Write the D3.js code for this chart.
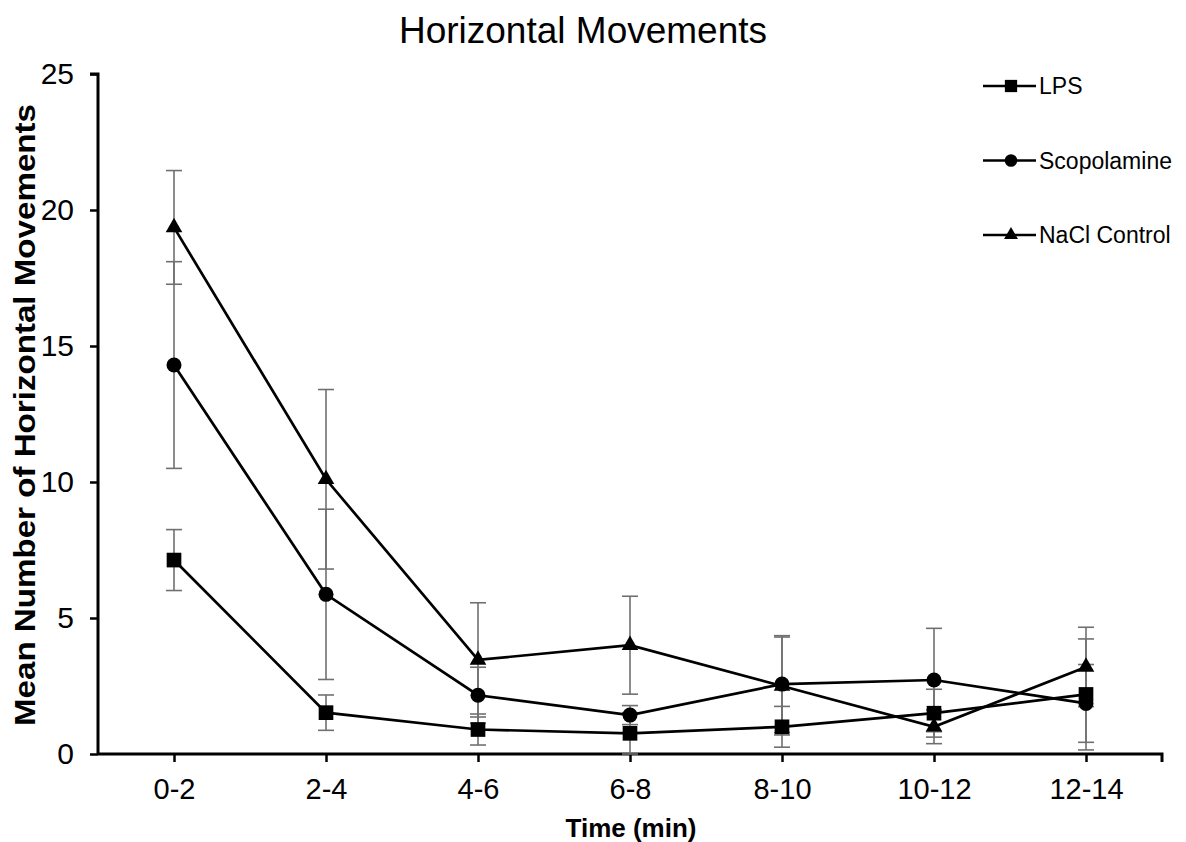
<!DOCTYPE html>
<html><head><meta charset="utf-8">
<script src="https://cdn.jsdelivr.net/npm/d3@7"></script>
<style>body{margin:0;background:#fff}svg{display:block}text{font-family:"Liberation Sans",Arial,sans-serif}</style>
</head><body><svg id="c" width="1186" height="842"></svg>
<script>
const categories = ["0-2","2-4","4-6","6-8","8-10","10-12","12-14"];
const lpsMean = [7.13,1.52,0.9,0.76,1.0,1.5,2.19];
const lpsErr  = [1.12,0.65,0.57,0.76,0.75,0.88,2.04];
const scoMean = [14.3,5.87,2.16,1.43,2.57,2.72,1.86];
const scoErr  = [3.8,3.13,1.03,0.35,1.78,1.9,1.43];
const naclMean = [19.36,10.1,3.46,4.0,2.5,1.0,3.2];
const naclErr  = [2.09,3.3,2.1,1.8,1.8,0.62,1.46];
const yTicks = [0,5,10,15,20,25];
const seriesNames = ["LPS","Scopolamine","NaCl Control"];

const svg = d3.select("#c");
const L=98,R=1162,T=74,B=754;
const x = d3.scalePoint().domain(categories).range([L,R]).padding(0.5);
const y = d3.scaleLinear().domain([0,25]).range([B,T]);

svg.append("text").attr("x",583).attr("y",43).attr("text-anchor","middle")
  .style("font-size","37px").text("Horizontal Movements");

// y axis
const ya = svg.append("g").attr("transform",`translate(${L},0)`)
  .call(d3.axisLeft(y).tickValues(yTicks).tickSize(8).tickPadding(16));
ya.select(".domain").attr("stroke","#000").attr("stroke-width",3).attr("d",`M-8,${T}H0V${B}`);
ya.selectAll(".tick line").attr("stroke-width",2.5);
ya.selectAll(".tick text").style("font-size","30px").attr("fill","#000");

// x axis
const xa = svg.append("g").attr("transform",`translate(0,${B})`)
  .call(d3.axisBottom(x).tickSize(8).tickPadding(16));
xa.select(".domain").attr("stroke","#000").attr("stroke-width",3).attr("d",`M${L},0H${R}V8`);
xa.selectAll(".tick line").attr("stroke-width",2.5);
xa.selectAll(".tick text").style("font-size","29px").attr("fill","#000");

svg.append("text").attr("x",631).attr("y",837).attr("text-anchor","middle")
  .style("font-size","26px").style("font-weight","bold").text("Time (min)");
svg.append("text").attr("transform","translate(35,415) rotate(-90)").attr("text-anchor","middle")
  .attr("textLength",622).attr("lengthAdjust","spacingAndGlyphs")
  .style("font-size","30px").style("font-weight","bold").text("Mean Number of Horizontal Movements");

const series = [
  {name:seriesNames[0],m:lpsMean,e:lpsErr,sym:d3.symbolSquare,size:215},
  {name:seriesNames[1],m:scoMean,e:scoErr,sym:d3.symbolCircle,size:177},
  {name:seriesNames[2],m:naclMean,e:naclErr,sym:d3.symbolTriangle,size:120}
];
// error bars
series.forEach(s=>{
  const g=svg.append("g").attr("stroke","#707070").attr("stroke-width",1.6).attr("fill","none");
  categories.forEach((c,i)=>{
    const cx=x(c), y1=y(s.m[i]+s.e[i]), y0=y(s.m[i]-s.e[i]);
    g.append("line").attr("x1",cx).attr("x2",cx).attr("y1",y1).attr("y2",y0);
    g.append("line").attr("x1",cx-8).attr("x2",cx+8).attr("y1",y1).attr("y2",y1);
    g.append("line").attr("x1",cx-8).attr("x2",cx+8).attr("y1",y0).attr("y2",y0);
  });
});
const line = d3.line().x((d,i)=>x(categories[i])).y(d=>y(d));
series.forEach(s=>{
  svg.append("path").datum(s.m).attr("d",line).attr("fill","none").attr("stroke","#000").attr("stroke-width",2.7);
  svg.append("g").selectAll("path").data(s.m).join("path")
    .attr("transform",(d,i)=>`translate(${x(categories[i])},${y(d)})`)
    .attr("d",d3.symbol().type(s.sym).size(s.size)).attr("fill","#000");
});
// legend
series.forEach((s,i)=>{
  const ly=86+i*74.5;
  const g=svg.append("g").attr("transform",`translate(983,${ly})`);
  g.append("line").attr("x1",0).attr("x2",53).attr("stroke","#000").attr("stroke-width",2.6);
  g.append("path").attr("transform","translate(28,0)").attr("d",d3.symbol().type(s.sym).size(s.size*0.7)).attr("fill","#000");
  g.append("text").attr("x",56).attr("y",8).style("font-size","23px").text(s.name);
});
</script></body></html>
